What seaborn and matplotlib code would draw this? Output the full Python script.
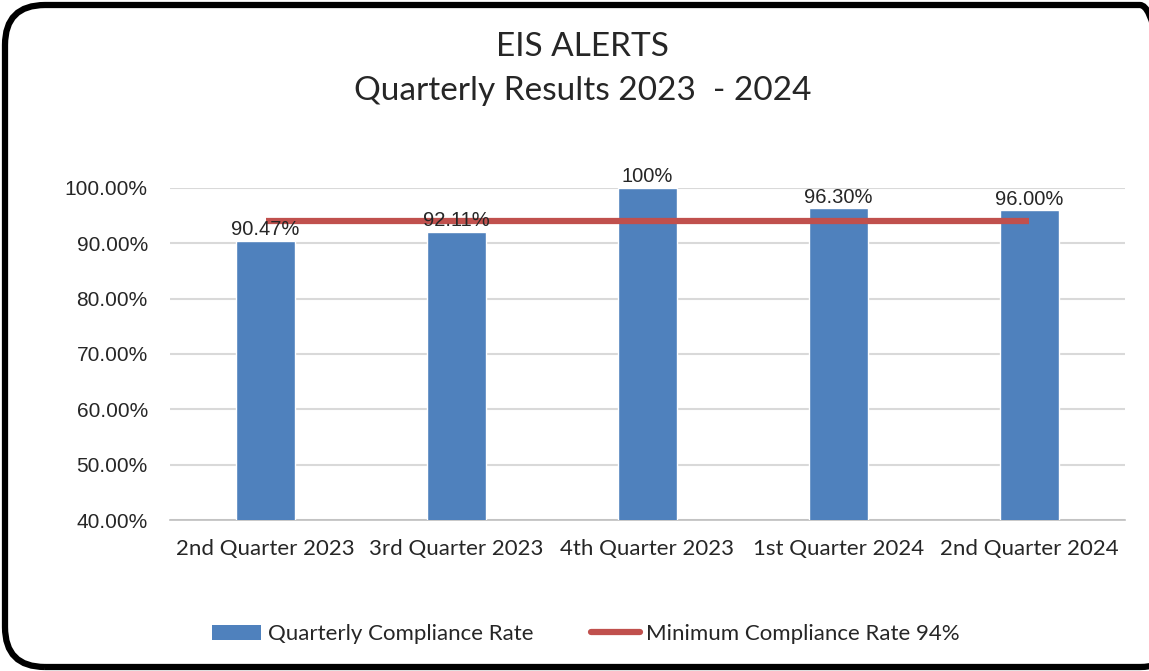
import matplotlib
matplotlib.use("Agg")
import matplotlib.pyplot as plt
import seaborn as sns
import pandas as pd
from matplotlib.patches import FancyBboxPatch, Patch
from matplotlib.lines import Line2D
from matplotlib.ticker import FuncFormatter, FixedLocator

quarters = ["2nd Quarter 2023", "3rd Quarter 2023", "4th Quarter 2023",
            "1st Quarter 2024", "2nd Quarter 2024"]
compliance = [0.9047, 0.9211, 1.00, 0.9630, 0.9600]
bar_labels = ["90.47%", "92.11%", "100%", "96.30%", "96.00%"]
min_rate = [0.94, 0.94, 0.94, 0.94, 0.94]

bar_color = "#4F81BD"
line_color = "#C0504D"

sns.set_style("white")
plt.rcParams["font.family"] = ["Lato", "DejaVu Sans"]

df = pd.DataFrame({"Quarter": quarters, "Rate": compliance})

fig = plt.figure(figsize=(11.49, 6.71), dpi=100)
ax = fig.add_axes([0.148, 0.225, 0.831, 0.495])

sns.barplot(data=df, x="Quarter", y="Rate", color=bar_color, width=0.31,
            saturation=1, ax=ax, zorder=3)
ax.plot(range(len(quarters)), min_rate, color=line_color, lw=4.5, zorder=4,
        solid_capstyle="butt")

ax.bar_label(ax.containers[0], labels=bar_labels, padding=1, fontsize=14.5,
             family="Liberation Sans", zorder=5)

ax.set_ylim(0.4, 1.0)
ax.set_xlim(-0.5, len(quarters) - 0.5)
ax.set_yticks([0.4, 0.5, 0.6, 0.7, 0.8, 0.9, 1.0])
ax.yaxis.set_major_formatter(FuncFormatter(lambda v, p: f"{v*100:.2f}%"))
ax.tick_params(axis="y", labelsize=15, length=0, pad=16)
for lab in ax.get_yticklabels():
    lab.set_family("Liberation Sans")
ax.grid(axis="y", color="#D9D9D9", lw=1.5, zorder=0)
ax.set_axisbelow(True)

ax.set_xticks(range(len(quarters)))
ax.set_xticklabels(quarters, fontsize=16)
ax.tick_params(axis="x", length=0, pad=14)
ax.xaxis.set_minor_locator(FixedLocator([i - 0.5 for i in range(len(quarters) + 1)]))
ax.tick_params(axis="x", which="minor", length=8, color="#BFBFBF", width=1.2)
ax.set_xlabel("")
ax.set_ylabel("")

for s in ["top", "right", "left"]:
    ax.spines[s].set_visible(False)
ax.spines["bottom"].set_color("#BFBFBF")
ax.spines["bottom"].set_linewidth(1.2)

fig.text(0.507, 0.93, "EIS ALERTS", ha="center", va="center", fontsize=24)
fig.text(0.507, 0.865, "Quarterly Results 2023  - 2024", ha="center",
         va="center", fontsize=24)

handles = [Patch(facecolor=bar_color, edgecolor="none"),
           Line2D([0], [0], color=line_color, lw=4.5)]
fig.legend(handles, ["Quarterly Compliance Rate", "Minimum Compliance Rate 94%"],
           loc="center", bbox_to_anchor=(0.51, 0.055), ncol=2, frameon=False,
           fontsize=16, handlelength=2.2, handletextpad=0.3, columnspacing=2.6)

# rounded frame, in inches so the corners stay round; right side runs off the image
border = FancyBboxPatch((0.05, 0.04), 11.75, 6.62,
                        boxstyle="round,pad=0,rounding_size=0.4",
                        transform=fig.dpi_scale_trans, fill=False,
                        edgecolor="black", lw=4.5, clip_on=False)
fig.patches.append(border)

fig.savefig("out.png", dpi=100)
